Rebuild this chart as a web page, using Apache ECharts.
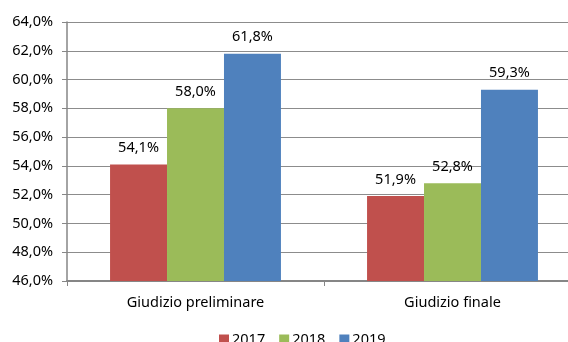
<!DOCTYPE html>
<html>
<head>
<meta charset="utf-8">
<script src="https://cdn.jsdelivr.net/npm/echarts@6/dist/echarts.min.js"></script>
<style>
  html, body { margin: 0; padding: 0; background: #fff; }
  #chart { width: 568px; height: 342px; }
</style>
</head>
<body>
<div id="chart"></div>
<script>
// Categories and yearly series (percent values)
const categories = ['Giudizio preliminare', 'Giudizio finale'];
const years = ['2017', '2018', '2019'];
const values2017 = [54.1, 51.9];
const values2018 = [58.0, 52.8];
const values2019 = [61.8, 59.3];
const colors = ['#C0504D', '#9BBB59', '#4F81BD'];

const yMin = 46, yMax = 64, yStep = 2;
const FONT = '"Noto Sans", "Open Sans", sans-serif';
const FS = 14.5;

const fmt = v => v.toFixed(1).replace('.', ',') + '%';

const seriesData = [values2017, values2018, values2019];

const chart = echarts.init(document.getElementById('chart'), null, { renderer: 'canvas' });
chart.setOption({
  animation: false,
  backgroundColor: '#ffffff',
  textStyle: { fontFamily: FONT },
  grid: { left: 67, top: 22, width: 514, height: 259, containLabel: false, outerBoundsMode: 'none' },
  legend: {
    data: years,
    left: 219,
    top: 332,
    padding: 0,
    itemWidth: 10,
    itemHeight: 10,
    itemGap: 14,
    icon: 'rect',
    textStyle: { fontFamily: FONT, fontSize: FS, color: '#000', padding: [0, 0, 0, -2] }
  },
  xAxis: {
    type: 'category',
    data: categories,
    axisLine: { lineStyle: { color: '#868686', width: 2 } },
    axisTick: { show: true, length: 5, alignWithLabel: false, lineStyle: { color: '#868686', width: 1 } },
    axisLabel: { fontFamily: FONT, fontSize: FS, color: '#000', margin: 14 }
  },
  yAxis: {
    type: 'value',
    min: yMin,
    max: yMax,
    interval: yStep,
    axisLine: { show: true, lineStyle: { color: '#868686', width: 1.5 } },
    axisTick: { show: true, length: 5, lineStyle: { color: '#868686' } },
    splitLine: { lineStyle: { color: '#8C8C8C', width: 1 } },
    axisLabel: {
      fontFamily: FONT, fontSize: FS, color: '#000', margin: 14,
      formatter: v => v.toFixed(1).replace('.', ',') + '%'
    }
  },
  series: years.map((y, i) => ({
    name: y,
    type: 'bar',
    data: seriesData[i],
    barGap: '0%',
    barCategoryGap: '33.5%',
    itemStyle: { color: colors[i] },
    label: {
      show: true,
      position: 'top',
      distance: 9,
      fontFamily: FONT,
      fontSize: FS,
      color: '#000',
      formatter: p => fmt(p.value)
    }
  })),
  color: colors
});
</script>
</body>
</html>
